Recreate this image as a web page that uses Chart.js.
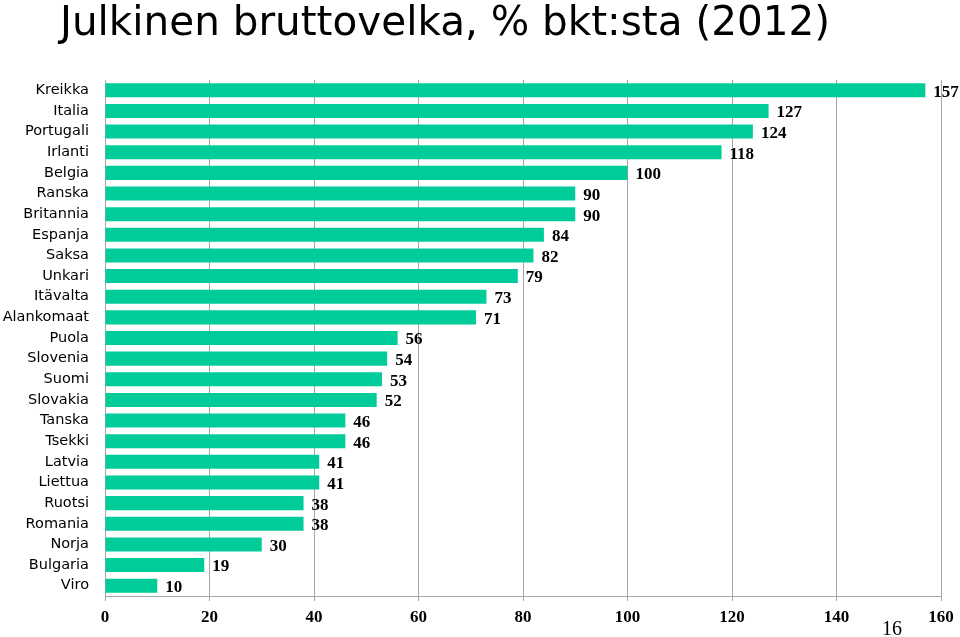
<!DOCTYPE html>
<html>
<head>
<meta charset="utf-8">
<script src="https://cdn.jsdelivr.net/npm/chart.js@4.4.1/dist/chart.umd.min.js"></script>
<style>
  html, body { margin: 0; padding: 0; background: #fff; }
  #wrap { position: relative; width: 960px; height: 637px; overflow: hidden; }
  #title {
    position: absolute; left: 60px; top: 1px;
    font-family: "DejaVu Sans", sans-serif; font-size: 40.5px; line-height: 40px;
    color: #000; white-space: nowrap;
  }
  #page {
    position: absolute; left: 882px; top: 618px;
    font-family: "Liberation Serif", "Times New Roman", serif; font-size: 20px; line-height: 20px;
    color: #000;
  }
  canvas { position: absolute; left: 0; top: 0; }
</style>
</head>
<body>
<div id="wrap">
  <canvas id="chart" width="960" height="637"></canvas>
  <div id="title">Julkinen bruttovelka, % bkt:sta (2012)</div>
  <div id="page">16</div>
</div>
<script>
const countries = ["Kreikka", "Italia", "Portugali", "Irlanti", "Belgia", "Ranska", "Britannia", "Espanja",
  "Saksa", "Unkari", "Itävalta", "Alankomaat", "Puola", "Slovenia", "Suomi", "Slovakia", "Tanska",
  "Tsekki", "Latvia", "Liettua", "Ruotsi", "Romania", "Norja", "Bulgaria", "Viro"];
const debt = [157, 127, 124, 118, 100, 90, 90, 84, 82, 79, 73, 71, 56, 54, 53, 52, 46, 46, 41, 41, 38, 38, 30, 19, 10];
const xTicks = [0, 20, 40, 60, 80, 100, 120, 140, 160];

// value labels to the right of each bar
const valueLabels = {
  id: 'valueLabels',
  afterDatasetsDraw(chart) {
    const ctx = chart.ctx;
    const meta = chart.getDatasetMeta(0);
    ctx.save();
    ctx.font = 'bold 17px "Liberation Serif", "Times New Roman", serif';
    ctx.fillStyle = '#000';
    ctx.textAlign = 'left';
    ctx.textBaseline = 'middle';
    meta.data.forEach((bar, i) => {
      ctx.fillText(debt[i], bar.x + 8, bar.y + 2);
    });
    ctx.restore();
  }
};

new Chart(document.getElementById('chart'), {
  type: 'bar',
  data: {
    labels: countries,
    datasets: [{
      data: debt,
      backgroundColor: '#00cc99',
      borderWidth: 0,
      categoryPercentage: 1,
      barPercentage: 0.68
    }]
  },
  options: {
    indexAxis: 'y',
    responsive: false,
    animation: false,
    layout: { padding: { top: 80, right: 19, left: 0, bottom: 0 } },
    plugins: { legend: { display: false }, tooltip: { enabled: false } },
    scales: {
      x: {
        min: 0, max: 160,
        afterBuildTicks: s => { s.ticks = xTicks.map(v => ({ value: v })); },
        afterFit: s => { s.height = 41; },
        grid: { color: '#a6a6a6', lineWidth: 1, tickLength: 5, drawTicks: true },
        border: { color: '#a6a6a6' },
        ticks: {
          padding: 6,
          color: '#000',
          font: { family: '"Liberation Serif", "Times New Roman", serif', size: 17, weight: 'bold' }
        }
      },
      y: {
        afterFit: s => { s.width = 105; },
        grid: { display: false, drawTicks: false },
        border: { color: '#a6a6a6' },
        ticks: {
          padding: 16,
          color: '#000',
          autoSkip: false,
          font: { family: '"DejaVu Sans", sans-serif', size: 14.5 }
        }
      }
    }
  },
  plugins: [valueLabels]
});
</script>
</body>
</html>
